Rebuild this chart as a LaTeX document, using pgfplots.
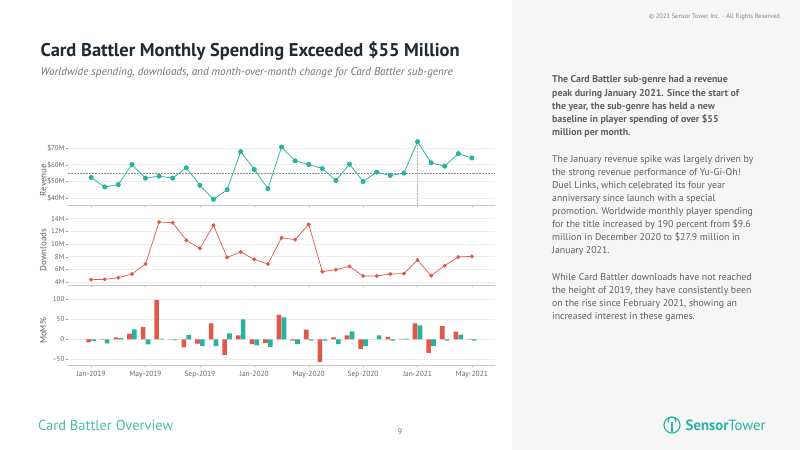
\documentclass[border=0pt]{standalone}
\usepackage{fontspec}
\setmainfont{PT Sans}
\usepackage{pgfplots}
\pgfplotsset{compat=1.18}
\definecolor{stteal}{RGB}{40,178,160}
\definecolor{stred}{RGB}{224,88,72}
\definecolor{txtgray}{RGB}{95,95,95}
\definecolor{titlecol}{RGB}{30,42,52}
\definecolor{panelgray}{RGB}{246,246,246}
\definecolor{tickgray}{RGB}{100,100,100}
\newcommand{\tline}[2]{\node[anchor=base west, inner sep=0pt, text=txtgray] at (552bp,{(450-#1)*1bp}) {#2};}
\pgfplotsset{panel/.style={
  scale only axis, width=427bp, xmin=-1.7, xmax=29.7,
  axis x line=bottom, axis y line=left,
  x axis line style={-, draw=black!22},
  y axis line style={draw=none},
  xtick={0,4,...,28}, xticklabels={},
  tick align=outside, major tick length=2.5bp,
  xtick style={draw=black!30},
  ytick style={draw=black!40},
  ymajorgrids, grid style={draw=black!7, line width=0.4pt},
  tick label style={font=\fontsize{7}{8}\selectfont, text=tickgray},
  yticklabel style={inner sep=1bp},
  ylabel style={font=\fontsize{9}{10}\selectfont, text=txtgray, anchor=center},
  /pgf/number format/assume math mode=true,
}}
\begin{document}
\begin{tikzpicture}[x=1bp,y=1bp]
\fill[white] (0,0) rectangle (800,450);
\fill[panelgray] (512,0) rectangle (800,450);
% title
\node[anchor=west, inner sep=0pt, text=titlecol] at (40.5,{450-51}) {\resizebox{419bp}{!}{\fontsize{18}{20}\selectfont\bfseries Card Battler Monthly Spending Exceeded \$55 Million}};
\node[anchor=west, inner sep=0pt, text=black!55] at (40.5,{450-73}) {\resizebox{412bp}{!}{\fontsize{11}{13}\selectfont\itshape Worldwide spending, downloads, and month-over-month change for Card Battler sub-genre}};
\node[anchor=east, inner sep=0pt, text=black!50] at (780,{450-17}) {\fontsize{6.5}{7}\selectfont \textcopyright{} 2021 Sensor Tower Inc. - All Rights Reserved};
% right text
\begingroup\fontsize{9.9}{12}\selectfont\bfseries
\tline{83}{The Card Battler sub-genre had a revenue}
\tline{96.2}{peak during January 2021. Since the start of}
\tline{109.4}{the year, the sub-genre has held a new}
\tline{122.6}{baseline in player spending of over \$55}
\tline{135.8}{million per month.}
\endgroup
\begingroup\fontsize{9.85}{12}\selectfont
\tline{162.6}{The January revenue spike was largely driven by}
\tline{175.65}{the strong revenue performance of Yu-Gi-Oh!}
\tline{188.7}{Duel Links, which celebrated its four year}
\tline{201.75}{anniversary since launch with a special}
\tline{214.8}{promotion. Worldwide monthly player spending}
\tline{227.85}{for the title increased by 190 percent from \$9.6}
\tline{240.9}{million in December 2020 to \$27.9 million in}
\tline{253.95}{January 2021.}
\tline{280.3}{While Card Battler downloads have not reached}
\tline{293.5}{the height of 2019, they have consistently been}
\tline{306.7}{on the rise since February 2021, showing an}
\tline{319.9}{increased interest in these games.}
\endgroup
% footer
\node[anchor=west, inner sep=0pt, text=stteal!85] at (38,{450-425}) {\resizebox{135bp}{!}{\fontsize{14}{16}\selectfont Card Battler Overview}};
\node[inner sep=0pt, text=black!60] at (400,{450-432}) {\fontsize{8}{9}\selectfont 9};
\draw[stteal, line width=1.1bp] (672,{450-425}) circle (8);
\draw[stteal, line width=1.1bp] (668.2,{450-422.5}) arc (200:-20:4);
\draw[stteal, line width=1.1bp] (672,{450-424}) -- (672,{450-432.5});
\fill[stteal] (672,{450-422.8}) circle (1.3);
\node[anchor=west, inner sep=0pt, text=stteal] at (685.5,{450-425}) {\resizebox{80bp}{!}{\fontsize{14}{16}\selectfont\textbf{Sensor}Tower}};
% revenue panel
\begin{axis}[panel, at={(68bp,245bp)}, anchor=south west, height=67bp,
  ymin=35.8, ymax=76, ytick={40,50,60,70}, yticklabels={\$40M,\$50M,\$60M,\$70M},
  ylabel={Revenue}, ylabel style={at={(axis description cs:-0.058,0.373)}}]
\addplot[densely dotted, black!45, line width=0.5pt] coordinates {(-1.7,55) (29.7,55)};
\addplot[densely dotted, black!30, line width=0.5pt] coordinates {(24,35.8) (24,76)};
\addplot[stteal, line width=0.75pt, mark=*, mark size=2.1bp] coordinates {
(0,52.3)(1,46.6)(2,48.0)(3,60.1)(4,51.9)(5,53.1)(6,51.9)(7,58.1)(8,47.6)(9,39.2)
(10,45.0)(11,67.8)(12,57.1)(13,45.6)(14,70.6)(15,62.3)(16,60.1)(17,57.7)(18,50.5)(19,60.3)
(20,49.9)(21,55.5)(22,53.5)(23,54.9)(24,73.8)(25,61.1)(26,59.1)(27,66.6)(28,64.0)};
\end{axis}
% downloads panel
\begin{axis}[panel, at={(68bp,165bp)}, anchor=south west, height=75bp,
  ymin=3.53, ymax=15.37, ytick={4,6,...,14}, yticklabels={4M,6M,8M,10M,12M,14M},
  ylabel={Downloads}, ylabel style={at={(axis description cs:-0.058,0.467)}}]
\addplot[stred, line width=0.7pt, mark=*, mark size=1.6bp] coordinates {
(0,4.37)(1,4.42)(2,4.68)(3,5.26)(4,6.84)(5,13.47)(6,13.37)(7,10.58)(8,9.32)(9,12.95)
(10,7.89)(11,8.74)(12,7.58)(13,6.84)(14,11.0)(15,10.68)(16,13.1)(17,5.63)(18,5.95)(19,6.47)
(20,4.95)(21,4.95)(22,5.26)(23,5.32)(24,7.47)(25,5.0)(26,6.58)(27,7.95)(28,8.05)};
\end{axis}
% MoM panel
\begin{axis}[panel, at={(68bp,85bp)}, anchor=south west, height=73bp,
  ymin=-64.25, ymax=118.3, ytick={-50,0,50,100}, yticklabels={--50,0,50,100},
  xticklabels={Jan-2019,May-2019,Sep-2019,Jan-2020,May-2020,Sep-2020,Jan-2021,May-2021},
  xticklabel style={font=\fontsize{7.5}{8}\selectfont},
  ylabel={MoM\%}, ylabel style={at={(axis description cs:-0.058,0.466)}}]
\addplot[ybar, bar width=0.34, bar shift=-0.18, fill=stred, draw=none] coordinates {
(0,-8)(1,1)(2,5)(3,14)(4,31)(5,98)(6,-1)(7,-20)(8,-11)(9,40)
(10,-39)(11,10)(12,-12)(13,-9)(14,61)(15,-3)(16,24)(17,-57)(18,5)(19,10)
(20,-24)(21,0)(22,6)(23,1)(24,40)(25,-34)(26,33)(27,19)(28,1)};
\addplot[ybar, bar width=0.34, bar shift=0.18, fill=stteal, draw=none] coordinates {
(0,-4)(1,-10)(2,3)(3,25)(4,-13)(5,2)(6,-2)(7,11)(8,-17)(9,-17)
(10,15)(11,50)(12,-15)(13,-19)(14,55)(15,-12)(16,-3)(17,-3)(18,-12)(19,20)
(20,-17)(21,10)(22,-3)(23,2)(24,35)(25,-17)(26,-3)(27,12)(28,-3)};
\end{axis}
\end{tikzpicture}
\end{document}
